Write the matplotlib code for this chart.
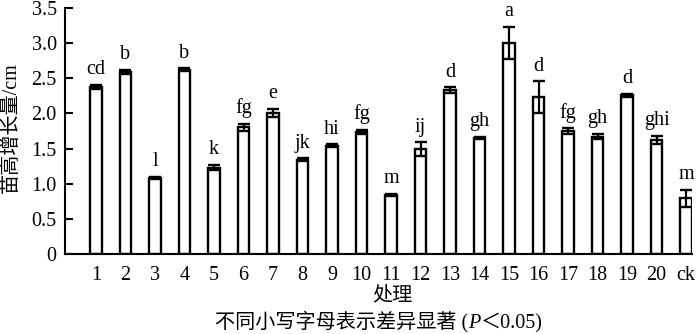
import matplotlib
matplotlib.use("Agg")
import matplotlib.pyplot as plt
import numpy as np

# Données
traitements = ['1', '2', '3', '4', '5', '6', '7', '8', '9', '10',
               '11', '12', '13', '14', '15', '16', '17', '18', '19', '20', 'ck']
hauteurs = [2.38, 2.59, 1.08, 2.62, 1.23, 1.80, 2.01, 1.34, 1.54, 1.74,
            0.84, 1.49, 2.33, 1.65, 3.00, 2.23, 1.75, 1.67, 2.26, 1.62, 0.79]
erreurs = [0.03, 0.03, 0.02, 0.02, 0.04, 0.05, 0.06, 0.02, 0.02, 0.03,
           0.02, 0.10, 0.04, 0.02, 0.23, 0.23, 0.04, 0.04, 0.02, 0.06, 0.12]
lettres = ['cd', 'b', 'l', 'b', 'k', 'fg', 'e', 'jk', 'hi', 'fg',
           'm', 'ij', 'd', 'gh', 'a', 'd', 'fg', 'gh', 'd', 'ghi', 'm']
yticks = [0, 0.5, 1.0, 1.5, 2.0, 2.5, 3.0, 3.5]
ytick_labels = ['0', '0.5', '1.0', '1.5', '2.0', '2.5', '3.0', '3.5']

famille = ['Liberation Serif', 'Noto Sans CJK SC']
plt.rcParams['font.family'] = famille
plt.rcParams['font.size'] = 14.5

fig = plt.figure(figsize=(7, 3.34), dpi=100)
ax = fig.add_axes([65 / 700, 1 - 254 / 334, 627 / 700, 246 / 334])

x = np.arange(len(traitements))
ax.bar(x, hauteurs, width=0.4, color='white', edgecolor='black', linewidth=1.7, zorder=2)
ax.errorbar(x, hauteurs, yerr=erreurs, fmt='none', ecolor='black',
            elinewidth=1.6, capsize=4, capthick=1.7, zorder=3)

for xi, h, e, l in zip(x, hauteurs, erreurs, lettres):
    ax.annotate(l, (xi, h + e), xytext=(0, 4), textcoords='offset points',
                ha='center', va='bottom', fontsize=14.5)

ax.set_xlim(-1.05, 20.2)
ax.set_ylim(0, 3.5)
ax.set_xticks(x)
ax.set_xticklabels(traitements)
ax.set_yticks(yticks)
ax.set_yticklabels(ytick_labels)
ax.tick_params(axis='x', length=0, pad=9, labelsize=14.5)
ax.tick_params(axis='y', direction='in', length=6, width=1.5, labelsize=14.5, pad=6)

for s in ['top', 'right']:
    ax.spines[s].set_visible(False)
for s in ['left', 'bottom']:
    ax.spines[s].set_linewidth(1.5)

fig.text(11 / 700, 1 - 128 / 334, '苗高增长量/cm', rotation=90, ha='center',
         va='center', fontsize=14.5)
fig.text(392 / 700, 1 - 297 / 334, '处理', ha='center', va='center', fontsize=14.5)

# Note en bas avec P en italique
t1 = fig.text(215 / 700, 1 - 322 / 334, '不同小写字母表示差异显著 (', ha='left',
              va='center', fontsize=14.5)
t2 = ax.annotate('P', xy=(1, 0), xycoords=t1, ha='left', va='bottom',
                 fontsize=14.5, style='italic')
t3 = ax.annotate('＜0.05)', xy=(1, 0), xycoords=t2, ha='left', va='bottom',
                 fontsize=14.5)

fig.savefig('out.png', dpi=100)
